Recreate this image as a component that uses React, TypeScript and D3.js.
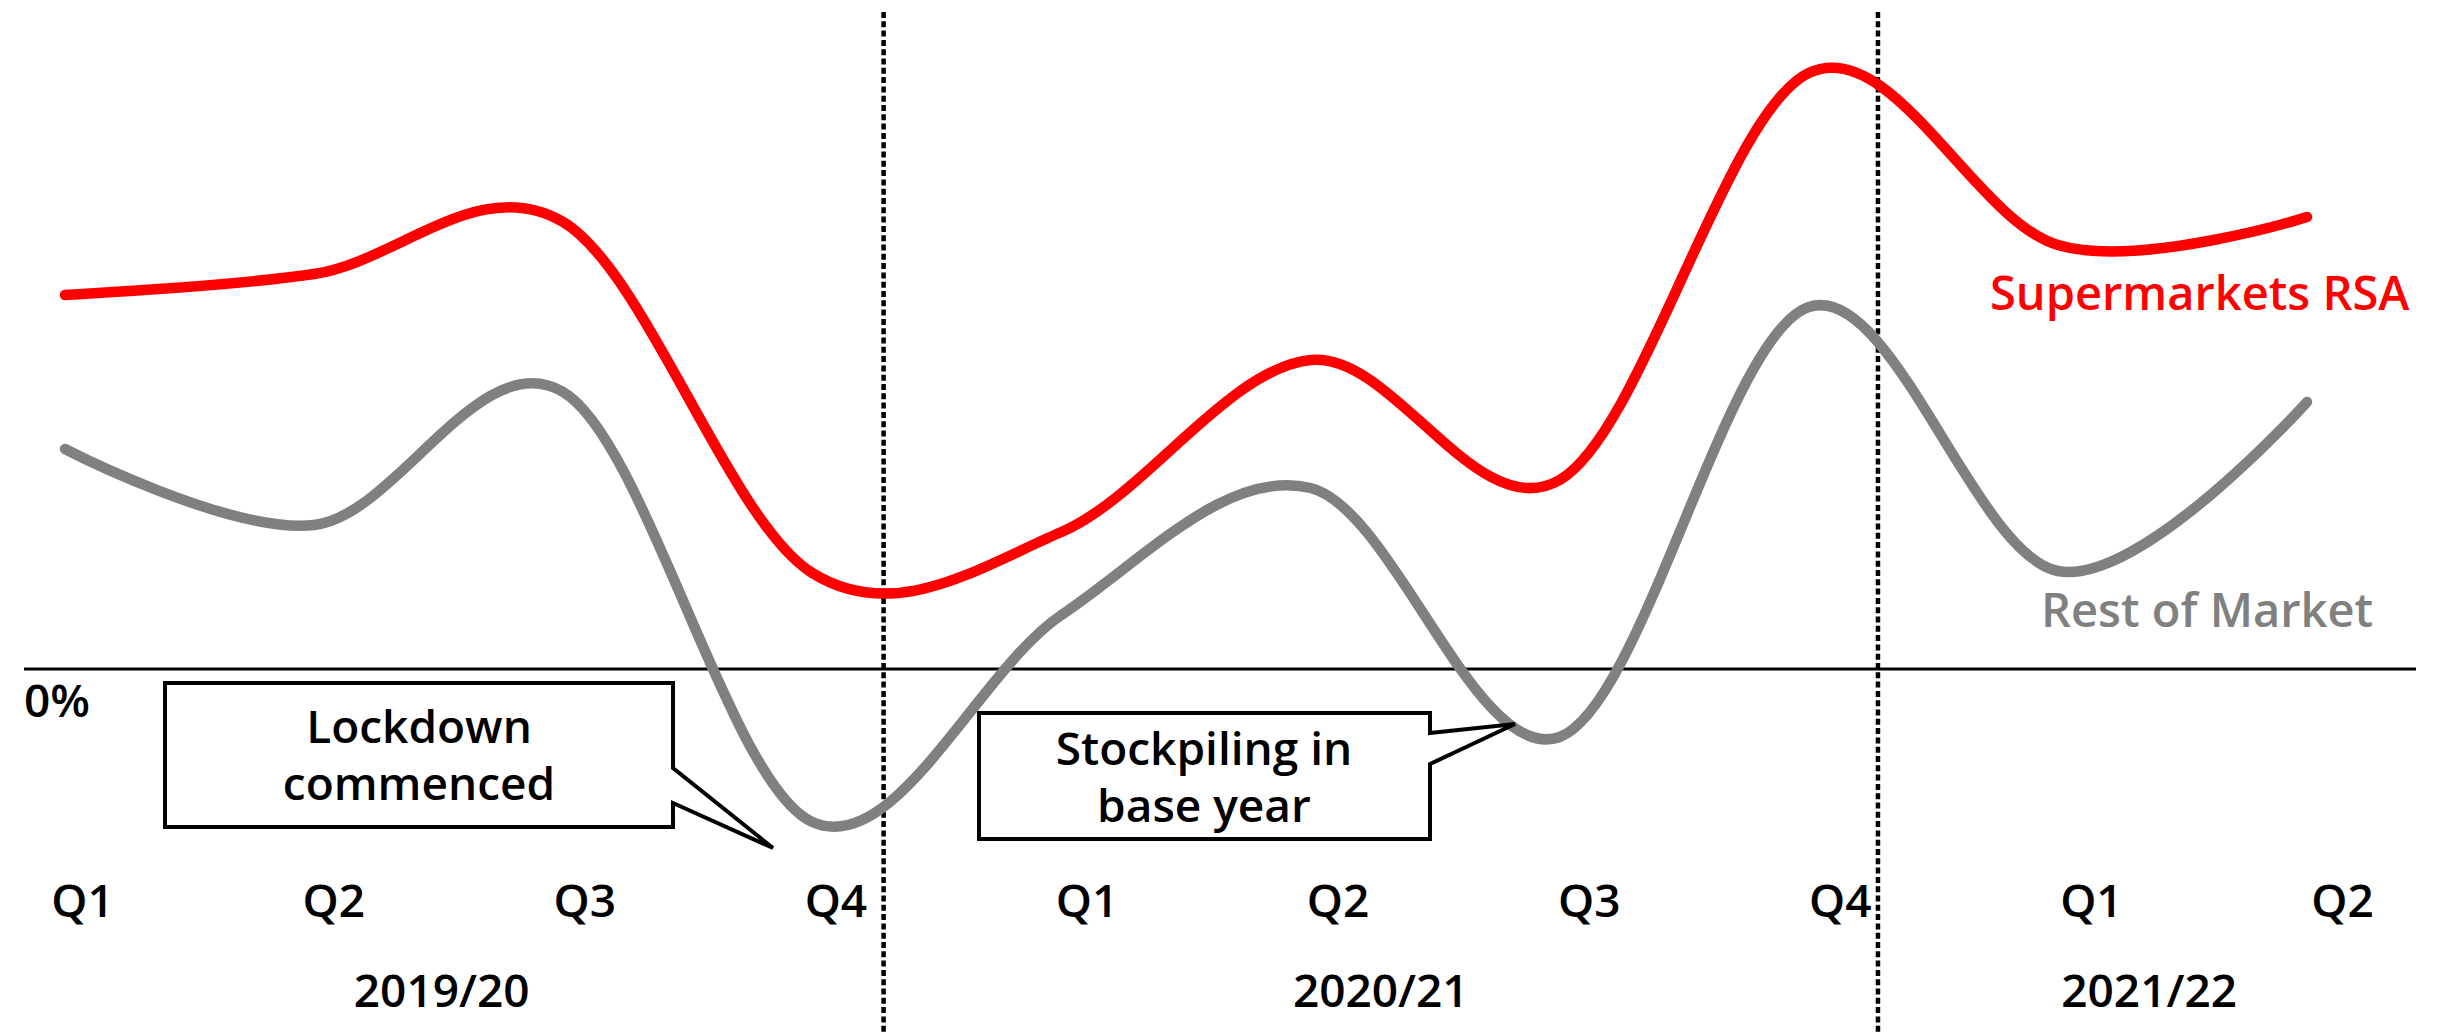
import React from "react";
import * as d3 from "d3";

const W = 2439;
const H = 1034;

const quarters = ["Q1", "Q2", "Q3", "Q4", "Q1", "Q2", "Q3", "Q4", "Q1", "Q2"];
const supermarkets = [7.48, 7.9, 8.94, 1.92, 2.74, 6.18, 3.78, 11.92, 8.48, 9.04];
const restOfMarket = [4.4, 2.88, 5.54, -3.06, 1.08, 3.62, -1.36, 7.24, 1.96, 5.34];
const years = ["2019/20", "2020/21", "2021/22"];
const yearPositions = [1.43, 5.17, 8.23];
const dividerPositions = [3.19, 7.15];

const FONT = "'Open Sans', Lato, sans-serif";

export default function App() {
  const idx = quarters.map((_, i) => i);
  const x = d3.scalePoint<number>().domain(idx).range([65, 2307]);
  const labelX = d3.scaleLinear().domain([0, 9]).range([82.6, 2342.5]);
  const y = d3.scaleLinear().domain([0, 10]).range([669, 169]);

  const line = d3
    .line<number>()
    .x((_, i) => x(i) as number)
    .y((d) => y(d))
    .curve(d3.curveCardinal.tension(0));

  const y0 = y(0);

  const lockdownPath = "M165,683 H673 V768 L773,848 L673,803 V827 H165 Z";
  const stockPath = "M979,713 H1430 V733 L1515,724 L1430,764 V839 H979 Z";

  const FW = 600;

  return (
    <svg
      width={W}
      height={H}
      style={{ position: "absolute", left: 0, top: 0, background: "#fff" }}
      fontFamily={FONT}
    >
      <rect x={0} y={0} width={W} height={H} fill="#fff" />
      {dividerPositions.map((p, i) => (
        <line
          key={i}
          x1={labelX(p)}
          x2={labelX(p)}
          y1={12}
          y2={H}
          stroke="#000"
          strokeWidth={4.5}
          strokeDasharray="6 3.3"
        />
      ))}
      <line x1={24} x2={2416} y1={y0} y2={y0} stroke="#000" strokeWidth={2.8} />
      <text x={24} y={717} fontSize={46} fontWeight={FW} fill="#000">
        0%
      </text>

      <path
        d={line(restOfMarket) || ""}
        fill="none"
        stroke="#808080"
        strokeWidth={10.5}
        strokeLinecap="round"
        strokeLinejoin="round"
      />
      <path
        d={line(supermarkets) || ""}
        fill="none"
        stroke="#ff0000"
        strokeWidth={10.5}
        strokeLinecap="round"
        strokeLinejoin="round"
      />

      <path d={lockdownPath} fill="#fff" stroke="#000" strokeWidth={4} strokeLinejoin="miter" />
      <text x={419} y={743} fontSize={46} fontWeight={FW} textAnchor="middle">
        Lockdown
      </text>
      <text x={419} y={800} fontSize={46} fontWeight={FW} textAnchor="middle">
        commenced
      </text>

      <path d={stockPath} fill="#fff" stroke="#000" strokeWidth={4} strokeLinejoin="miter" />
      <text x={1204} y={765} fontSize={46} fontWeight={FW} textAnchor="middle">
        Stockpiling in
      </text>
      <text x={1204} y={822} fontSize={46} fontWeight={FW} textAnchor="middle">
        base year
      </text>

      <text x={1990} y={310} fontSize={47} fontWeight={FW} fill="#ff0000">
        Supermarkets RSA
      </text>
      <text x={2041} y={627} fontSize={47} fontWeight={FW} fill="#808080">
        Rest of Market
      </text>

      {quarters.map((q, i) => (
        <text
          key={i}
          x={labelX(i)}
          y={917}
          fontSize={46}
          fontWeight={FW}
          textAnchor="middle"
        >
          {q}
        </text>
      ))}
      {years.map((yr, i) => (
        <text
          key={yr}
          x={labelX(yearPositions[i])}
          y={1007}
          fontSize={46}
          fontWeight={FW}
          textAnchor="middle"
        >
          {yr}
        </text>
      ))}
    </svg>
  );
}
